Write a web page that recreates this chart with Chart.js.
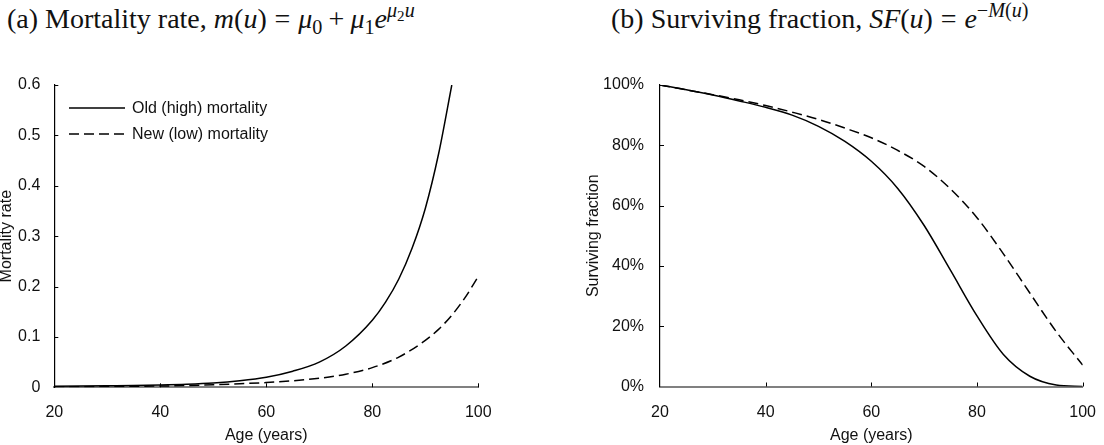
<!DOCTYPE html>
<html>
<head>
<meta charset="utf-8">
<script src="https://cdn.jsdelivr.net/npm/chart.js@4.4.1/dist/chart.umd.min.js"></script>
<style>
html,body{margin:0;padding:0;background:#fff;width:1104px;height:445px;overflow:hidden;}
body{position:relative;}
canvas{position:absolute;top:0;}
.title{position:absolute;top:2px;font-family:"Liberation Serif","DejaVu Serif",serif;font-size:28px;line-height:34px;white-space:nowrap;color:#111;}
.title i{font-style:italic;}
.title .op{margin:0 0.28em;}
.title .op2{margin:0 0.22em;}
.title sub{font-size:0.72em;line-height:0;vertical-align:-0.3em;}
.title sup{font-size:0.72em;line-height:0;vertical-align:0.55em;}
.title sup sub{font-size:0.75em;vertical-align:-0.25em;}
</style>
</head>
<body>
<div class="title" style="left:7px">(a) Mortality rate, <i>m</i>(<i>u</i>)<span class="op">=</span><i>μ</i><sub>0</sub><span class="op2">+</span><i>μ</i><sub>1</sub><i>e</i><sup><i>μ</i><sub>2</sub><i>u</i></sup></div>
<div class="title" style="left:611px">(b) Surviving fraction, <i>SF</i>(<i>u</i>)<span class="op">=</span><i>e</i><sup>−<i>M</i>(<i>u</i>)</sup></div>
<canvas id="cA" width="520" height="445" style="left:-3px;width:520px;height:445px"></canvas>
<canvas id="cB" width="520" height="445" style="left:584px;width:520px;height:445px"></canvas>
<script>
// ---- data ----
const agesOld = [20,25,30,35,40,45,50,55,60,65,70,75,80,82.5,85,87.5,90,92.5,95];
const mortalityOld = [0.002,0.0025,0.003,0.0035,0.0045,0.006,0.0085,0.013,0.020,0.032,0.050,0.082,0.133,0.169,0.215,0.276,0.355,0.463,0.600];
const agesNew = [20,25,30,35,40,45,50,55,60,65,70,75,80,85,90,92.5,95,97.5,100];
const mortalityNew = [0.001,0.0012,0.0015,0.002,0.0025,0.0035,0.005,0.007,0.0095,0.013,0.018,0.026,0.039,0.060,0.093,0.115,0.143,0.178,0.220];
const agesAll = [20,25,30,35,40,45,50,55,60,65,70,75,80,85,90,95,100];
const survivalOld = [100,98.4,96.65,94.7,92.6,90.0,86.3,81.3,74.7,65.7,53.4,38.5,23.4,10.6,3.4,0.5,0];
const survivalNew = [100,98.4,96.8,95.1,93.2,91.0,88.6,85.7,82.5,78.3,73.0,65.5,56.0,44.0,31.0,18.2,7.1];
const seriesLabels = ['Old (high) mortality','New (low) mortality'];
const xTitle = 'Age (years)';
const yTitleA = 'Mortality rate';
const yTitleB = 'Surviving fraction';

const FONT = {family:'"Liberation Sans", Arial, sans-serif', size:16};
const pts = (xs, ys) => ys.map((v,i)=>({x:xs[i], y:v}));

const inTicks = {
  id:'inTicks',
  afterDraw(chart){
    const {ctx, chartArea:a, scales:{x,y}} = chart;
    ctx.save();
    ctx.lineWidth = 1;
    ctx.strokeStyle = '#000';
    x.ticks.forEach(t=>{
      const px = Math.round(x.getPixelForValue(t.value))+0.5;
      if (Math.abs(px - a.left) < 2) return;
      ctx.beginPath(); ctx.moveTo(px, a.bottom); ctx.lineTo(px, a.bottom-4); ctx.stroke();
    });
    y.ticks.forEach(t=>{
      const py = Math.round(y.getPixelForValue(t.value))+0.5;
      if (Math.abs(py - a.bottom) < 2) return;
      ctx.beginPath(); ctx.moveTo(a.left, py); ctx.lineTo(a.left+4, py); ctx.stroke();
    });
    ctx.restore();
  }
};

const innerLegend = {
  id:'innerLegend',
  afterDraw(chart, args, opts){
    if (!opts || !opts.show) return;
    const ctx = chart.ctx;
    ctx.save();
    ctx.font = FONT.size + 'px ' + FONT.family;
    ctx.textBaseline = 'middle';
    ctx.textAlign = 'left';
    ctx.fillStyle = '#111';
    chart.data.datasets.forEach((ds,i)=>{
      const y = opts.y + i*opts.gap;
      ctx.strokeStyle = ds.borderColor;
      ctx.lineWidth = ds.borderWidth;
      ctx.setLineDash(ds.borderDash || []);
      ctx.beginPath(); ctx.moveTo(opts.x, y); ctx.lineTo(opts.x+opts.len, y); ctx.stroke();
      ctx.setLineDash([]);
      ctx.fillText(ds.label, opts.x+opts.len+7, y+1);
    });
    ctx.restore();
  }
};

function makeOptions(cfg){
  return {
    responsive:false,
    animation:false,
    devicePixelRatio:1,
    layout:{padding:{top:85, right:cfg.padRight, left:0, bottom:0}},
    plugins:{legend:{display:false}, tooltip:{enabled:false}, innerLegend:cfg.legend},
    elements:{point:{radius:0}, line:{cubicInterpolationMode:'monotone'}},
    scales:{
      x:{type:'linear', min:20, max:100,
         afterFit(s){ s.height = cfg.xH; },
         grid:{display:false},
         border:{display:true, color:'#808080', width:2},
         ticks:{stepSize:20, padding:8, color:'#111', font:FONT, maxRotation:0},
         title:{display:true, text:xTitle, color:'#111', font:FONT, padding:{top:0,bottom:0}}},
      y:{type:'linear', min:cfg.yMin, max:cfg.yMax,
         afterFit(s){ s.width = cfg.yW; },
         grid:{display:false},
         border:{display:true, color:'#000', width:1.2},
         ticks:{stepSize:cfg.yStep, padding:cfg.yPad, color:'#111', font:FONT, callback:cfg.yFmt},
         title:{display:true, text:cfg.yTitle, color:'#111', font:FONT, padding:{top:0,bottom:0}}}
    }
  };
}

new Chart(document.getElementById('cA'), {
  type:'line',
  data:{datasets:[
    {label:seriesLabels[0], data:pts(agesOld, mortalityOld), borderColor:'#000', borderWidth:1.5, fill:false},
    {label:seriesLabels[1], data:pts(agesNew, mortalityNew), borderColor:'#000', borderWidth:1.5, borderDash:[10,5], fill:false}
  ]},
  options:makeOptions({padRight:38.7, xH:57.7, yW:57.3, yMin:0, yMax:0.6, yStep:0.1, yPad:6,
    yTitle:yTitleA, yFmt:(v)=>String(Math.round(v*10)/10),
    legend:{show:true, x:72, y:108, gap:26, len:56}}),
  plugins:[inTicks, innerLegend]
});

new Chart(document.getElementById('cB'), {
  type:'line',
  data:{datasets:[
    {label:seriesLabels[0], data:pts(agesAll, survivalOld), borderColor:'#000', borderWidth:1.5, fill:false},
    {label:seriesLabels[1], data:pts(agesAll, survivalNew), borderColor:'#000', borderWidth:1.5, borderDash:[10,5], fill:false}
  ]},
  options:makeOptions({padRight:20.7, xH:58.5, yW:76, yMin:0, yMax:100, yStep:20, yPad:8,
    yTitle:yTitleB, yFmt:(v)=>v+'%', legend:{show:false}}),
  plugins:[inTicks, innerLegend]
});
</script>
</body>
</html>
